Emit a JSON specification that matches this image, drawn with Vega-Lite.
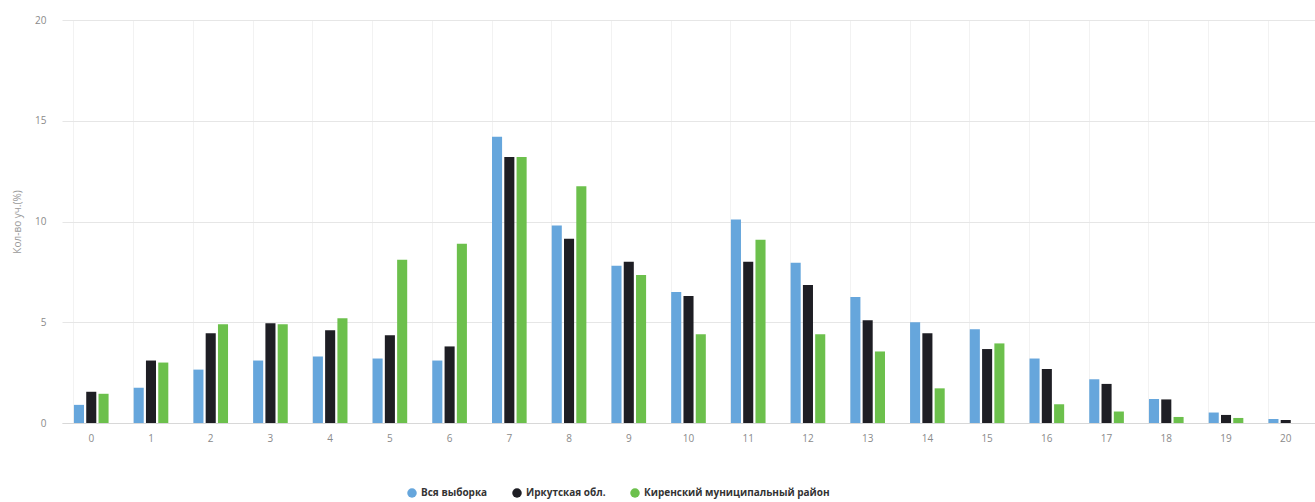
{
  "$schema": "https://vega.github.io/schema/vega-lite/v6.json",
  "autosize": "none",
  "width": 1253,
  "height": 403,
  "padding": {"left": 62, "top": 20, "right": 0, "bottom": 79},
  "background": "#ffffff",
  "config": {
    "view": {"stroke": null},
    "font": "Open Sans",
    "axis": {"labelFont": "Open Sans", "titleFont": "Open Sans"}
  },
  "data": {
    "values": [
      {"x": 0, "s": "Вся выборка", "v": 0.9}, {"x": 0, "s": "Иркутская обл.", "v": 1.55}, {"x": 0, "s": "Киренский муниципальный район", "v": 1.45},
      {"x": 1, "s": "Вся выборка", "v": 1.75}, {"x": 1, "s": "Иркутская обл.", "v": 3.1}, {"x": 1, "s": "Киренский муниципальный район", "v": 3.0},
      {"x": 2, "s": "Вся выборка", "v": 2.65}, {"x": 2, "s": "Иркутская обл.", "v": 4.45}, {"x": 2, "s": "Киренский муниципальный район", "v": 4.9},
      {"x": 3, "s": "Вся выборка", "v": 3.1}, {"x": 3, "s": "Иркутская обл.", "v": 4.95}, {"x": 3, "s": "Киренский муниципальный район", "v": 4.9},
      {"x": 4, "s": "Вся выборка", "v": 3.3}, {"x": 4, "s": "Иркутская обл.", "v": 4.6}, {"x": 4, "s": "Киренский муниципальный район", "v": 5.2},
      {"x": 5, "s": "Вся выборка", "v": 3.2}, {"x": 5, "s": "Иркутская обл.", "v": 4.35}, {"x": 5, "s": "Киренский муниципальный район", "v": 8.1},
      {"x": 6, "s": "Вся выборка", "v": 3.1}, {"x": 6, "s": "Иркутская обл.", "v": 3.8}, {"x": 6, "s": "Киренский муниципальный район", "v": 8.9},
      {"x": 7, "s": "Вся выборка", "v": 14.2}, {"x": 7, "s": "Иркутская обл.", "v": 13.2}, {"x": 7, "s": "Киренский муниципальный район", "v": 13.2},
      {"x": 8, "s": "Вся выборка", "v": 9.8}, {"x": 8, "s": "Иркутская обл.", "v": 9.15}, {"x": 8, "s": "Киренский муниципальный район", "v": 11.75},
      {"x": 9, "s": "Вся выборка", "v": 7.8}, {"x": 9, "s": "Иркутская обл.", "v": 8.0}, {"x": 9, "s": "Киренский муниципальный район", "v": 7.35},
      {"x": 10, "s": "Вся выборка", "v": 6.5}, {"x": 10, "s": "Иркутская обл.", "v": 6.3}, {"x": 10, "s": "Киренский муниципальный район", "v": 4.4},
      {"x": 11, "s": "Вся выборка", "v": 10.1}, {"x": 11, "s": "Иркутская обл.", "v": 8.0}, {"x": 11, "s": "Киренский муниципальный район", "v": 9.1},
      {"x": 12, "s": "Вся выборка", "v": 7.95}, {"x": 12, "s": "Иркутская обл.", "v": 6.85}, {"x": 12, "s": "Киренский муниципальный район", "v": 4.4},
      {"x": 13, "s": "Вся выборка", "v": 6.25}, {"x": 13, "s": "Иркутская обл.", "v": 5.1}, {"x": 13, "s": "Киренский муниципальный район", "v": 3.55},
      {"x": 14, "s": "Вся выборка", "v": 5.0}, {"x": 14, "s": "Иркутская обл.", "v": 4.45}, {"x": 14, "s": "Киренский муниципальный район", "v": 1.72},
      {"x": 15, "s": "Вся выборка", "v": 4.65}, {"x": 15, "s": "Иркутская обл.", "v": 3.67}, {"x": 15, "s": "Киренский муниципальный район", "v": 3.95},
      {"x": 16, "s": "Вся выборка", "v": 3.2}, {"x": 16, "s": "Иркутская обл.", "v": 2.68}, {"x": 16, "s": "Киренский муниципальный район", "v": 0.93},
      {"x": 17, "s": "Вся выборка", "v": 2.17}, {"x": 17, "s": "Иркутская обл.", "v": 1.94}, {"x": 17, "s": "Киренский муниципальный район", "v": 0.57},
      {"x": 18, "s": "Вся выборка", "v": 1.19}, {"x": 18, "s": "Иркутская обл.", "v": 1.17}, {"x": 18, "s": "Киренский муниципальный район", "v": 0.3},
      {"x": 19, "s": "Вся выборка", "v": 0.52}, {"x": 19, "s": "Иркутская обл.", "v": 0.4}, {"x": 19, "s": "Киренский муниципальный район", "v": 0.25},
      {"x": 20, "s": "Вся выборка", "v": 0.2}, {"x": 20, "s": "Иркутская обл.", "v": 0.15}, {"x": 20, "s": "Киренский муниципальный район", "v": 0.0}
    ]
  },
  "mark": {"type": "bar"},
  "encoding": {
    "x": {
      "field": "x", "type": "ordinal", "title": null,
      "scale": {"paddingInner": 0.42, "paddingOuter": 0.2},
      "axis": {
        "labelAngle": 0, "labelFontSize": 10, "labelColor": "#8a8a8a", "labelPadding": 10,
        "ticks": false, "domainColor": "#d8d8d8", "grid": true, "bandPosition": 0,
        "gridColor": "#f2f2f2", "gridWidth": 1
      }
    },
    "xOffset": {
      "field": "s", "type": "nominal",
      "sort": ["Вся выборка", "Иркутская обл.", "Киренский муниципальный район"],
      "scale": {"paddingInner": 0.18}
    },
    "y": {
      "field": "v", "type": "quantitative",
      "title": "Кол-во уч.(%)",
      "scale": {"domain": [0, 20]},
      "axis": {
        "values": [0, 5, 10, 15, 20], "labelFontSize": 10, "labelColor": "#8a8a8a",
        "labelPadding": 16, "ticks": false, "domain": false, "gridColor": "#e6e6e6",
        "titleFontSize": 10, "titleColor": "#9a9a9a", "titleFontWeight": "normal", "titlePadding": 12
      }
    },
    "color": {
      "field": "s", "type": "nominal",
      "sort": ["Вся выборка", "Иркутская обл.", "Киренский муниципальный район"],
      "scale": {
        "domain": ["Вся выборка", "Иркутская обл.", "Киренский муниципальный район"],
        "range": ["#66a6dc", "#1e1e24", "#6cc04c"]
      },
      "legend": {
        "title": null, "orient": "none", "direction": "horizontal",
        "legendX": 345, "legendY": 468, "symbolType": "circle", "symbolSize": 90,
        "labelFontSize": 10, "labelColor": "#333333", "labelFontWeight": "bold",
        "labelLimit": 400, "columnPadding": 24, "symbolStrokeWidth": 0
      }
    }
  }
}
